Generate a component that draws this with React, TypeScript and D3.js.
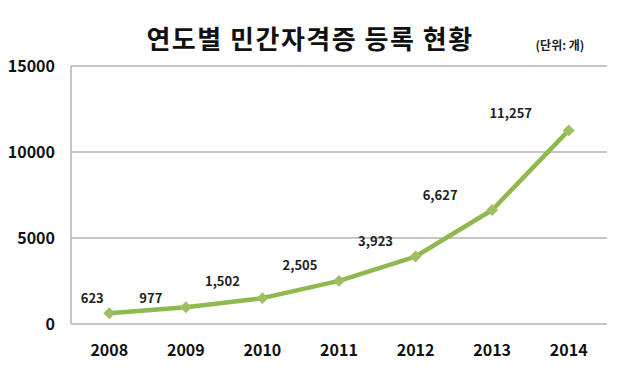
import { useEffect, useRef } from "react";
import * as d3 from "d3";

const years = ["2008", "2009", "2010", "2011", "2012", "2013", "2014"];
const counts = [623, 977, 1502, 2505, 3923, 6627, 11257];
const yTicks = [0, 5000, 10000, 15000];
// manual label nudges (px, relative to the point), like the hand-placed Excel labels
const labelDx = [-17, -35, -40, -39, -40, -52, -58];
const labelDy = [-15, -9, -17, -15, -15, -15, -17];

const FONT = "'Noto Sans CJK KR', 'Noto Sans', sans-serif";

export default function App() {
  const svgRef = useRef<SVGSVGElement>(null);

  useEffect(() => {
    if (!svgRef.current) return;
    d3.select(svgRef.current).selectAll("*").remove();

    const width = 620;
    const height = 368;
    const plot = { left: 71, right: 607, top: 66, bottom: 324 };

    const svg = d3
      .select(svgRef.current)
      .attr("width", width)
      .attr("height", height)
      .style("display", "block")
      .style("background", "#fff");

    const x = d3
      .scalePoint<string>()
      .domain(years)
      .range([plot.left, plot.right])
      .padding(0.5);

    const y = d3.scaleLinear().domain([0, 15000]).range([plot.bottom, plot.top]);

    // title
    svg
      .append("text")
      .attr("x", 310)
      .attr("y", 49)
      .attr("text-anchor", "middle")
      .attr("font-family", FONT)
      .attr("font-weight", "bold")
      .attr("font-size", 26)
      .attr("letter-spacing", 1.5)
      .attr("fill", "#111")
      .text("연도별 민간자격증 등록 현황");

    svg
      .append("text")
      .attr("x", 560)
      .attr("y", 50)
      .attr("text-anchor", "middle")
      .attr("font-family", FONT)
      .attr("font-weight", "bold")
      .attr("font-size", 12)
      .attr("fill", "#222")
      .text("(단위: 개)");

    // gridlines
    svg
      .append("g")
      .selectAll("line")
      .data(yTicks)
      .enter()
      .append("line")
      .attr("x1", plot.left)
      .attr("x2", plot.right)
      .attr("y1", (d) => y(d))
      .attr("y2", (d) => y(d))
      .attr("stroke", "#b3b3b3")
      .attr("stroke-width", 1.5);

    // left axis line
    svg
      .append("line")
      .attr("x1", plot.left)
      .attr("x2", plot.left)
      .attr("y1", plot.top)
      .attr("y2", plot.bottom)
      .attr("stroke", "#b3b3b3")
      .attr("stroke-width", 1.5);

    // y tick labels
    svg
      .append("g")
      .selectAll("text")
      .data(yTicks)
      .enter()
      .append("text")
      .attr("x", 55)
      .attr("y", (d) => y(d))
      .attr("dy", "0.35em")
      .attr("text-anchor", "end")
      .attr("font-family", FONT)
      .attr("font-weight", "bold")
      .attr("font-size", 16)
      .attr("fill", "#111")
      .text((d) => String(d));

    // x tick labels
    svg
      .append("g")
      .selectAll("text")
      .data(years)
      .enter()
      .append("text")
      .attr("x", (d) => x(d)!)
      .attr("y", 350)
      .attr("dy", "0.35em")
      .attr("text-anchor", "middle")
      .attr("font-family", FONT)
      .attr("font-weight", "bold")
      .attr("font-size", 16)
      .attr("fill", "#111")
      .text((d) => d);

    // line
    const line = d3
      .line<number>()
      .x((_, i) => x(years[i])!)
      .y((d) => y(d));

    svg
      .append("path")
      .datum(counts)
      .attr("d", line)
      .attr("fill", "none")
      .attr("stroke", "#8fb84e")
      .attr("stroke-width", 4.5)
      .attr("stroke-linejoin", "round");

    // diamond markers
    svg
      .append("g")
      .selectAll("path")
      .data(counts)
      .enter()
      .append("path")
      .attr("transform", (d, i) => `translate(${x(years[i])}, ${y(d)})`)
      .attr("d", d3.symbol().type(d3.symbolDiamond2).size(90))
      .attr("fill", "#9fc062");

    // value labels
    svg
      .append("g")
      .selectAll("text")
      .data(counts)
      .enter()
      .append("text")
      .attr("x", (d, i) => x(years[i])! + labelDx[i])
      .attr("y", (d, i) => y(d) + labelDy[i])
      .attr("dy", "0.35em")
      .attr("text-anchor", "middle")
      .attr("font-family", FONT)
      .attr("font-weight", "bold")
      .attr("font-size", 13)
      .attr("fill", "#222")
      .text((d) => d3.format(",")(d));
  }, []);

  return (
    <div style={{ margin: -8 }}>
      <svg ref={svgRef}></svg>
    </div>
  );
}
